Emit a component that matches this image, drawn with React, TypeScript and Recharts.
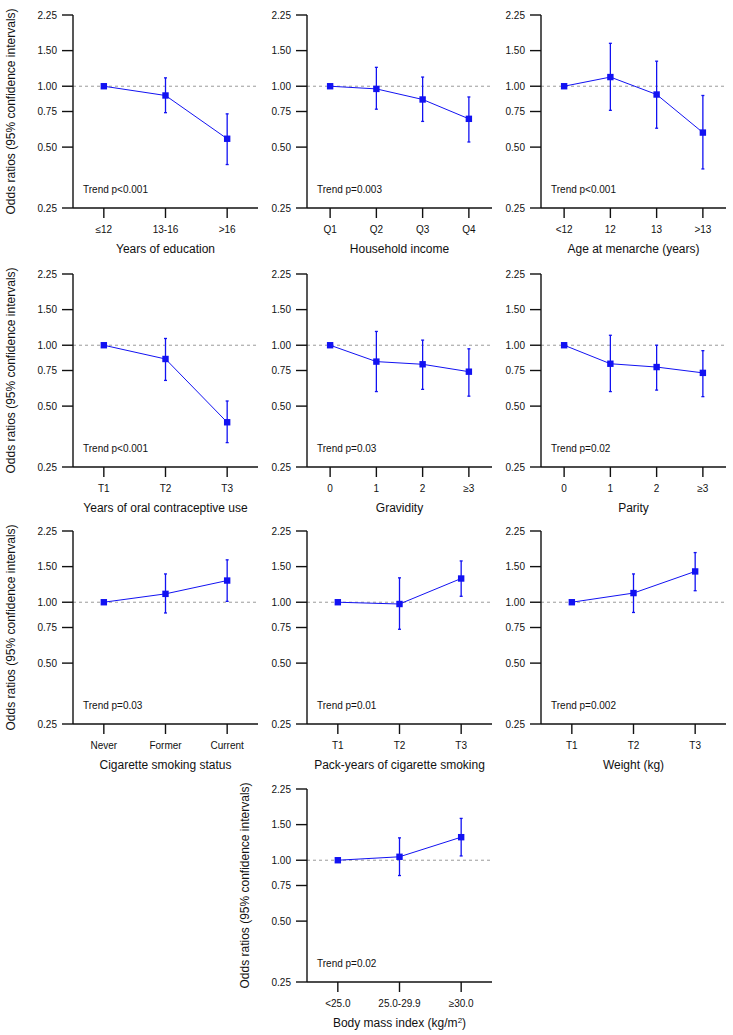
import React from "react";
import { LineChart, Line, XAxis, YAxis, ReferenceLine, ErrorBar } from "recharts";

// odds ratios with lower / upper 95% CI
const eduCats = ["≤12", "13-16", ">16"];
const eduOR = [1, 0.9, 0.55];
const eduLo = [1, 0.74, 0.41];
const eduHi = [1, 1.1, 0.73];

const incomeCats = ["Q1", "Q2", "Q3", "Q4"];
const incomeOR = [1, 0.97, 0.86, 0.69];
const incomeLo = [1, 0.77, 0.67, 0.53];
const incomeHi = [1, 1.24, 1.11, 0.885];

const menarcheCats = ["<12", "12", "13", ">13"];
const menarcheOR = [1, 1.11, 0.91, 0.59];
const menarcheLo = [1, 0.76, 0.62, 0.39];
const menarcheHi = [1, 1.63, 1.33, 0.9];

const ocCats = ["T1", "T2", "T3"];
const ocOR = [1, 0.855, 0.416];
const ocLo = [1, 0.67, 0.33];
const ocHi = [1, 1.08, 0.53];

const gravCats = ["0", "1", "2", "≥3"];
const gravOR = [1, 0.83, 0.805, 0.74];
const gravLo = [1, 0.59, 0.605, 0.56];
const gravHi = [1, 1.17, 1.06, 0.96];

const parityCats = ["0", "1", "2", "≥3"];
const parityOR = [1, 0.81, 0.78, 0.73];
const parityLo = [1, 0.59, 0.6, 0.557];
const parityHi = [1, 1.12, 1.0, 0.94];

const smokeCats = ["Never", "Former", "Current"];
const smokeOR = [1, 1.1, 1.28];
const smokeLo = [1, 0.885, 1.01];
const smokeHi = [1, 1.38, 1.62];

const packCats = ["T1", "T2", "T3"];
const packOR = [1, 0.98, 1.31];
const packLo = [1, 0.735, 1.07];
const packHi = [1, 1.32, 1.6];

const weightCats = ["T1", "T2", "T3"];
const weightOR = [1, 1.11, 1.42];
const weightLo = [1, 0.89, 1.14];
const weightHi = [1, 1.38, 1.76];

const bmiCats = ["<25.0", "25.0-29.9", "≥30.0"];
const bmiOR = [1, 1.04, 1.3];
const bmiLo = [1, 0.84, 1.05];
const bmiHi = [1, 1.29, 1.61];

const yTicks = [0.25, 0.5, 0.75, 1, 1.5, 2.25];

const BLUE = "#1212f2";
const INK = "#111";
const AXIS = "#111";
const FONT = '"Liberation Sans", Arial, Helvetica, sans-serif';

const PLOT_W = 185;
const PLOT_H = 193;
const LEFT = 73;
const TOP = 12;
const BOTTOM = 53;
const RIGHT = 5;
const colX = [73, 307, 541];
const rowY = [15, 274, 531, 789];

type Panel = {
  title: string;
  sup?: string;
  tail?: string;
  trend: string;
  cats: string[];
  or: number[];
  lo: number[];
  hi: number[];
  row: number;
  col: number;
  yTitle: boolean;
};

const panels: Panel[] = [
  { title: "Years of education", trend: "Trend p<0.001", cats: eduCats, or: eduOR, lo: eduLo, hi: eduHi, row: 0, col: 0, yTitle: true },
  { title: "Household income", trend: "Trend p=0.003", cats: incomeCats, or: incomeOR, lo: incomeLo, hi: incomeHi, row: 0, col: 1, yTitle: false },
  { title: "Age at menarche (years)", trend: "Trend p<0.001", cats: menarcheCats, or: menarcheOR, lo: menarcheLo, hi: menarcheHi, row: 0, col: 2, yTitle: false },
  { title: "Years of oral contraceptive use", trend: "Trend p<0.001", cats: ocCats, or: ocOR, lo: ocLo, hi: ocHi, row: 1, col: 0, yTitle: true },
  { title: "Gravidity", trend: "Trend p=0.03", cats: gravCats, or: gravOR, lo: gravLo, hi: gravHi, row: 1, col: 1, yTitle: false },
  { title: "Parity", trend: "Trend p=0.02", cats: parityCats, or: parityOR, lo: parityLo, hi: parityHi, row: 1, col: 2, yTitle: false },
  { title: "Cigarette smoking status", trend: "Trend p=0.03", cats: smokeCats, or: smokeOR, lo: smokeLo, hi: smokeHi, row: 2, col: 0, yTitle: true },
  { title: "Pack-years of cigarette smoking", trend: "Trend p=0.01", cats: packCats, or: packOR, lo: packLo, hi: packHi, row: 2, col: 1, yTitle: false },
  { title: "Weight (kg)", trend: "Trend p=0.002", cats: weightCats, or: weightOR, lo: weightLo, hi: weightHi, row: 2, col: 2, yTitle: false },
  { title: "Body mass index (kg/m", sup: "2", tail: ")", trend: "Trend p=0.02", cats: bmiCats, or: bmiOR, lo: bmiLo, hi: bmiHi, row: 3, col: 1, yTitle: true },
];

const Square = (props: any) => {
  const { cx, cy, index } = props;
  if (cx == null || cy == null) return <g key={index} />;
  return <rect key={index} x={cx - 3.2} y={cy - 3.2} width={6.4} height={6.4} fill={BLUE} />;
};

function PanelChart({ p }: { p: Panel }) {
  const rows = p.cats.map((c, i) => ({
    cat: c,
    or: p.or[i],
    err: [p.or[i] - p.lo[i], p.hi[i] - p.or[i]],
  }));
  const pad = PLOT_W / (2 * p.cats.length);

  const yLabel = (props: any) => {
    const vb = props.viewBox || {};
    const plotLeft = vb.x + vb.width;
    const midY = vb.y + vb.height / 2;
    return (
      <g fontFamily={FONT}>
        {p.yTitle && (
          <text
            x={plotLeft - 62}
            y={midY}
            transform={`rotate(-90, ${plotLeft - 62}, ${midY})`}
            textAnchor="middle"
            dominantBaseline="central"
            fontSize={12}
            fill={INK}
          >
            Odds ratios (95% confidence intervals)
          </text>
        )}
        <text x={plotLeft + 10} y={vb.y + vb.height - 15.5} fontSize={10} fill={INK}>
          {p.trend}
        </text>
      </g>
    );
  };

  const xLabel = (props: any) => {
    const vb = props.viewBox || {};
    return (
      <text x={vb.x + vb.width / 2} y={vb.y + 45} textAnchor="middle" fontSize={12} fill={INK} fontFamily={FONT}>
        {p.title}
        {p.sup && (
          <tspan dy={-4.5} fontSize={8}>
            {p.sup}
          </tspan>
        )}
        {p.tail && <tspan dy={4.5}>{p.tail}</tspan>}
      </text>
    );
  };

  return (
    <div
      style={{
        position: "absolute",
        left: colX[p.col] - LEFT,
        top: rowY[p.row] - TOP,
      }}
    >
      <LineChart
        width={LEFT + PLOT_W + RIGHT}
        height={TOP + PLOT_H + BOTTOM}
        data={rows}
        margin={{ top: TOP, right: RIGHT, bottom: 0, left: 0 }}
      >
        <XAxis
          dataKey="cat"
          type="category"
          interval={0}
          padding={{ left: pad, right: pad }}
          height={BOTTOM}
          tickSize={10}
          tickMargin={8}
          stroke={AXIS}
          tick={{ fill: INK, fontSize: 10, fontFamily: FONT }}
          axisLine={{ stroke: AXIS, strokeWidth: 1.4 }}
          tickLine={{ stroke: AXIS, strokeWidth: 1.4 }}
          label={xLabel}
        />
        <YAxis
          type="number"
          scale="log"
          domain={[0.25, 2.25]}
          ticks={yTicks}
          interval={0}
          allowDataOverflow
          width={LEFT}
          tickSize={11}
          tickMargin={5}
          tickFormatter={(v: number) => v.toFixed(2)}
          stroke={AXIS}
          tick={{ fill: INK, fontSize: 10, fontFamily: FONT }}
          axisLine={{ stroke: AXIS, strokeWidth: 1.4 }}
          tickLine={{ stroke: AXIS, strokeWidth: 1.4 }}
          label={yLabel}
        />
        <ReferenceLine y={1} stroke="#9a9a9a" strokeDasharray="3 3" strokeWidth={1} />
        <Line
          dataKey="or"
          type="linear"
          stroke={BLUE}
          strokeWidth={1}
          dot={Square}
          activeDot={false}
          isAnimationActive={false}
        >
          <ErrorBar dataKey="err" direction="y" width={1.5} strokeWidth={1.3} stroke={BLUE} isAnimationActive={false} />
        </Line>
      </LineChart>
    </div>
  );
}

export default function App() {
  return (
    <div style={{ position: "absolute", left: 0, top: 0, width: 733, height: 1035, background: "#fff" }}>
      {panels.map((p, i) => (
        <PanelChart key={i} p={p} />
      ))}
    </div>
  );
}
